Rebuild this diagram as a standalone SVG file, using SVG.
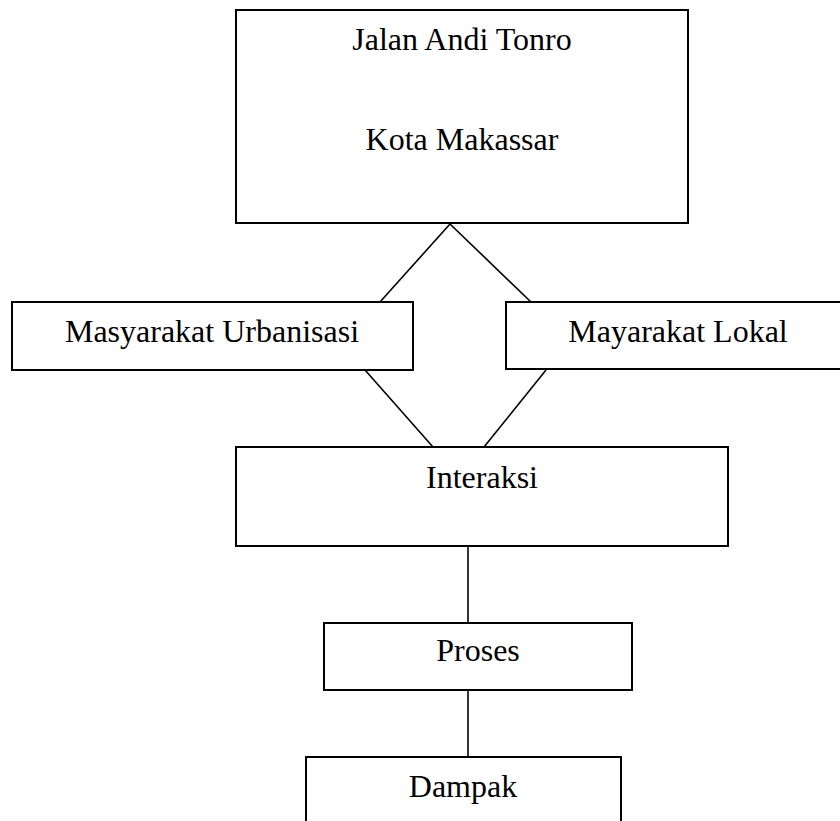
<svg xmlns="http://www.w3.org/2000/svg" width="840" height="821" viewBox="0 0 840 821">
<style>
.box{fill:#fff;stroke:#000;stroke-width:2}
.lbl{font-family:'Liberation Serif','Times New Roman',Times,Tinos,'DejaVu Serif',serif;font-size:32px;fill:#000;text-anchor:middle}
.con line{stroke:#000;stroke-width:1.6}
</style>
<rect width="840" height="821" fill="#fff"/>
<g id="connectors" class="con">
<line x1="450" y1="224" x2="380" y2="302"/>
<line x1="450" y1="224" x2="531" y2="302"/>
<line x1="365" y1="370" x2="433" y2="447"/>
<line x1="546" y1="370" x2="484" y2="447"/>
<line x1="468" y1="546" x2="468" y2="623"/>
<line x1="468" y1="690" x2="468" y2="757"/>
</g>
<g id="node-jalan">
<rect class="box" x="236" y="10" width="452" height="213"/>
<text class="lbl" x="462" y="50" font-family="Liberation Serif, serif">Jalan Andi Tonro</text>
<text class="lbl" x="462" y="150" font-family="Liberation Serif, serif">Kota Makassar</text>
</g>
<g id="node-urban">
<rect class="box" x="12" y="302" width="401" height="68"/>
<text class="lbl" x="212" y="342" font-family="Liberation Serif, serif">Masyarakat Urbanisasi</text>
</g>
<g id="node-lokal">
<rect class="box" x="506" y="302" width="340" height="67"/>
<text class="lbl" x="678" y="342" font-family="Liberation Serif, serif">Mayarakat Lokal</text>
</g>
<g id="node-interaksi">
<rect class="box" x="236" y="447" width="492" height="99"/>
<text class="lbl" x="482" y="488" font-family="Liberation Serif, serif">Interaksi</text>
</g>
<g id="node-proses">
<rect class="box" x="324" y="623" width="308" height="67"/>
<text class="lbl" x="478" y="661" font-family="Liberation Serif, serif">Proses</text>
</g>
<g id="node-dampak">
<rect class="box" x="306" y="757" width="315" height="80"/>
<text class="lbl" x="463" y="797" font-family="Liberation Serif, serif">Dampak</text>
</g>
</svg>
